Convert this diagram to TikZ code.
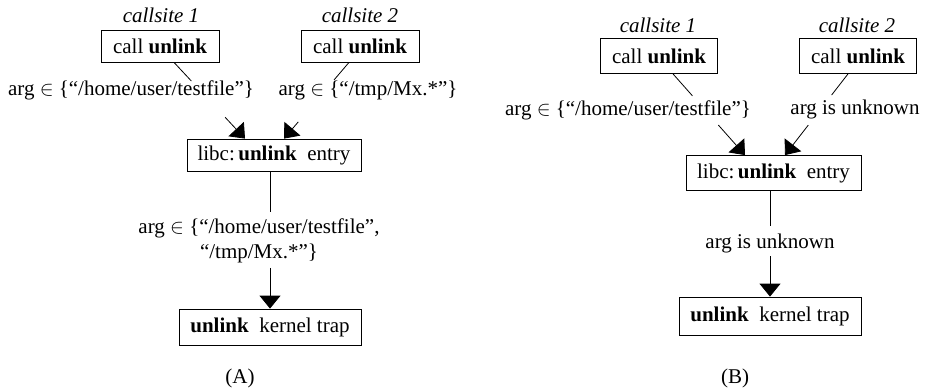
\documentclass[tikz,border=0pt]{standalone}
\usepackage{fontspec}
\setmainfont{Liberation Serif}
\usetikzlibrary{arrows.meta,calc}
\begin{document}
\begin{tikzpicture}[x=1pt,y=-1pt,
  every node/.style={font=\fontsize{21}{25}\selectfont, inner sep=0pt},
  box/.style={draw, line width=0.8pt, minimum height=32pt},
  boxb/.style={box, minimum height=35pt},
  lbl/.style={align=center},
  conn/.style={line width=0.8pt},
  arr/.style={conn, -{Triangle[width=21pt,length=13pt]}}]
\useasboundingbox (0,0) rectangle (932,389);
% ---------- (A) ----------
\node (csA1) at (161,15) {\textit{callsite 1}};
\node (csA2) at (360,15) {\textit{callsite 2}};
\node[box, minimum width=118pt] (a1) at (160,46) {call \textbf{unlink}};
\node[box, minimum width=118pt] (a2) at (360,46) {call \textbf{unlink}};
\node[lbl] (la1) at (131,90) {arg $\in$ \{``/home/user/testfile''\}};
\node[lbl] (la2) at (368,90) {arg $\in$ \{``/tmp/Mx.*''\}};
\node[box, minimum width=174pt] (libcA) at (274,155) {libc:\,\textbf{unlink}\ \ entry};
\node[lbl] (la3) at (259,241) {arg $\in$ \{``/home/user/testfile'',\\ ``/tmp/Mx.*''\}};
\node[box, minimum width=182pt, minimum height=36pt] (kA) at (270,327) {\textbf{unlink}\ \ kernel trap};
\node (capA) at (240,378) {(A)};
\coordinate (a1s) at ($(a1.south)+(14,0)$);
\coordinate (a1e) at ($(libcA.north)+(-29,0)$);
\coordinate (a2s) at ($(a2.south)+(-11,0)$);
\coordinate (a2e) at ($(libcA.north)+(10,0)$);
\coordinate (a3s) at ($(libcA.south)+(-4,0)$);
\coordinate (a3e) at (kA.north);
\draw[conn] (a1s) -- ($(a1s)!0.244!(a1e)$);
\draw[arr] ($(a1s)!0.72!(a1e)$) -- (a1e);
\draw[conn] (a2s) -- ($(a2s)!0.23!(a2e)$);
\draw[arr] ($(a2s)!0.78!(a2e)$) -- (a2e);
\draw[conn] (a3s) -- ($(a3s)!0.297!(a3e)$);
\draw[arr] ($(a3s)!0.703!(a3e)$) -- (a3e);
% ---------- (B) ----------
\node (csB1) at (658,25) {\textit{callsite 1}};
\node (csB2) at (857,25) {\textit{callsite 2}};
\node[boxb, minimum width=117pt] (b1) at (659,56) {call \textbf{unlink}};
\node[boxb, minimum width=117pt] (b2) at (858,56) {call \textbf{unlink}};
\node[lbl] (lb1) at (628,110) {arg $\in$ \{``/home/user/testfile''\}};
\node[lbl] (lb2) at (855,109) {arg is unknown};
\node[boxb, minimum width=175pt] (libcB) at (773.5,173) {libc:\,\textbf{unlink}\ \ entry};
\node[lbl] (lb3) at (770,243) {arg is unknown};
\node[boxb, minimum width=182pt, minimum height=38pt] (kB) at (770,316) {\textbf{unlink}\ \ kernel trap};
\node (capB) at (735,378) {(B)};
\coordinate (b1s) at ($(b1.south)+(14,0)$);
\coordinate (b1e) at ($(libcB.north)+(-28.5,0)$);
\coordinate (b2s) at ($(b2.south)+(-10,0)$);
\coordinate (b2e) at ($(libcB.north)+(11.5,0)$);
\coordinate (b3s) at ($(libcB.south)+(-3.5,0)$);
\coordinate (b3e) at (kB.north);
\draw[conn] (b1s) -- ($(b1s)!0.27!(b1e)$);
\draw[arr] ($(b1s)!0.63!(b1e)$) -- (b1e);
\draw[conn] (b2s) -- ($(b2s)!0.26!(b2e)$);
\draw[arr] ($(b2s)!0.63!(b2e)$) -- (b2e);
\draw[conn] (b3s) -- ($(b3s)!0.333!(b3e)$);
\draw[arr] ($(b3s)!0.62!(b3e)$) -- (b3e);
\end{tikzpicture}
\end{document}
